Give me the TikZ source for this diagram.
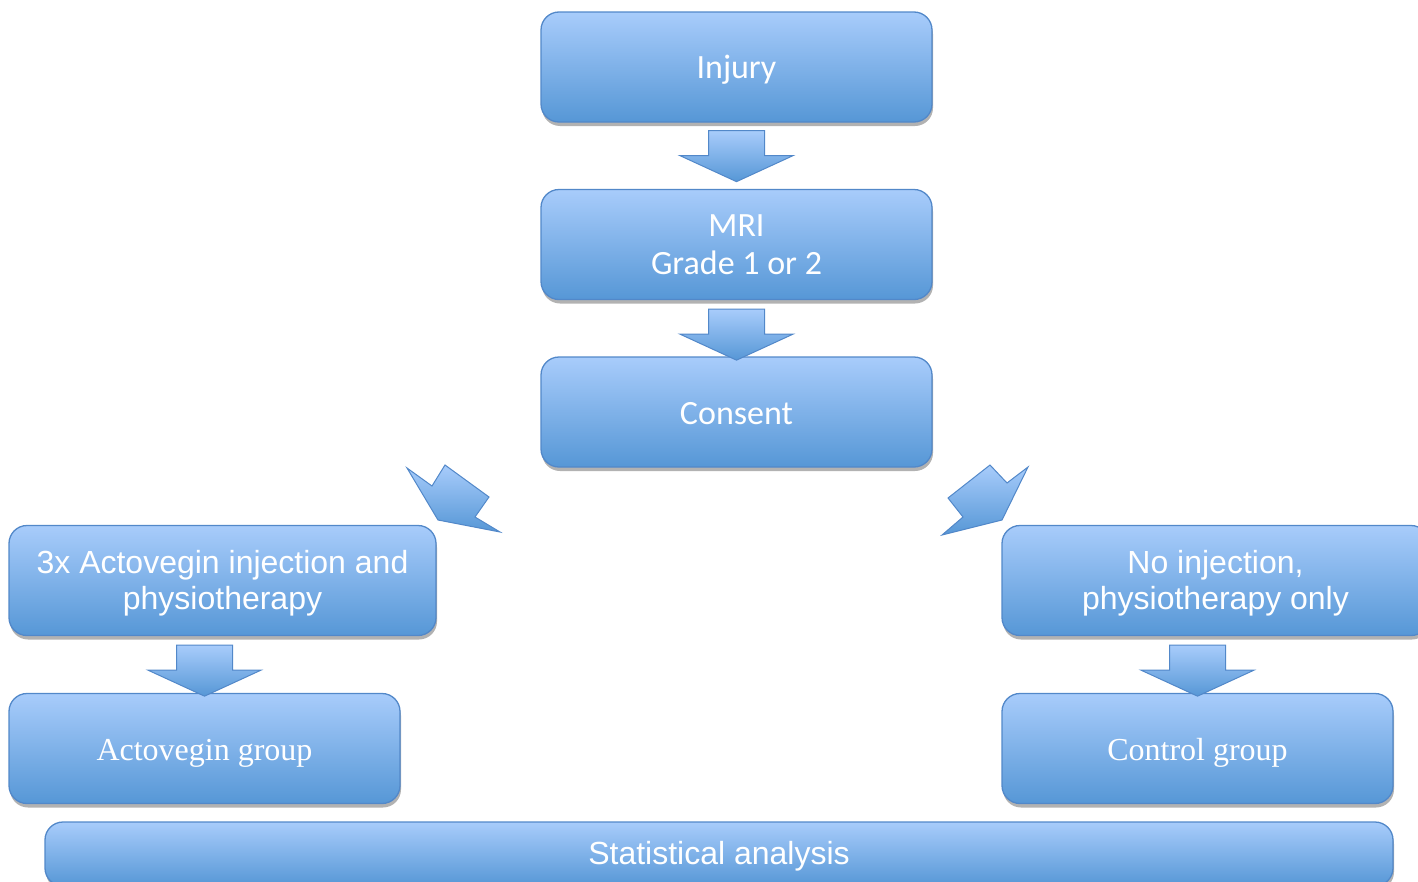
\documentclass[tikz,border=0pt]{standalone}
\usepackage{fontspec}
\setmainfont{Carlito}
\newfontfamily\arialf{Liberation Sans}
\newfontfamily\timesf{Liberation Serif}
\usetikzlibrary{calc,shadows}
\definecolor{btop}{RGB}{168,204,251}
\definecolor{bbot}{RGB}{86,151,214}
\definecolor{bline}{RGB}{82,136,201}
\tikzset{
 flowbox/.style={draw=bline, line width=1.3pt, rounded corners=18pt, top color=btop, bottom color=bbot,
   inner sep=0pt, minimum height=110pt,
   drop shadow={shadow xshift=1pt, shadow yshift=-4pt, opacity=0.3, fill=black}},
 boxtext/.style={text=white, align=center, inner sep=0pt},
 blockarrow/.style={draw=bline, line width=1pt, top color=btop, bottom color=bbot, line join=miter},
 calfont/.style={font=\fontsize{34}{38}\selectfont},
 arfont/.style={font=\arialf\fontsize{32}{36}\selectfont},
 tmfont/.style={font=\timesf\fontsize{32}{36}\selectfont},
}
\newcommand{\downarr}[1]{\path[blockarrow] ($(#1)+(-28,0)$) -- ++(56,0) -- ++(0,25) -- ++(28.5,0)
  -- ($(#1)+(0,51)$) -- ($(#1)+(-56.5,25)$) -- ++(28.5,0) -- cycle;}
\begin{document}
\begin{tikzpicture}[x=1pt,y=-1pt]
\useasboundingbox (0,0) rectangle (1418,881);
\node[flowbox, minimum width=391pt, label={[boxtext, calfont, yshift=-3pt]center:Injury}] (inj) at (736.5,67) {};
\node[flowbox, minimum width=391pt, label={[boxtext, calfont]center:MRI\\Grade 1 or 2}] (mri) at (736.5,244.5) {};
\node[flowbox, minimum width=391pt, label={[boxtext, calfont, yshift=-2pt]center:Consent}] (cons) at (736.5,412) {};
\node[flowbox, minimum width=427pt, label={[boxtext, arfont, yshift=-3pt]center:3x Actovegin injection and\\physiotherapy}] (left) at (222.5,580.5) {};
\node[flowbox, minimum width=427pt, label={[boxtext, arfont, yshift=-3pt]center:No injection,\\physiotherapy only}] (right) at (1215.5,580.5) {};
\node[flowbox, minimum width=391pt, label={[boxtext, tmfont, yshift=-5pt]center:Actovegin group}] (act) at (204.5,748.5) {};
\node[flowbox, minimum width=391pt, label={[boxtext, tmfont, yshift=-4pt]center:Control group}] (ctrl) at (1197.5,748.5) {};
\node[flowbox, minimum width=1348pt, minimum height=64pt, label={[boxtext, arfont, yshift=-2pt]center:Statistical analysis}] (stat) at (719,854) {};
\coordinate (a1) at ($(inj.south)+(0,8)$);
\coordinate (a2) at ($(mri.south)+(0,9)$);
\coordinate (a3) at ($(act.north |- left.south)+(0,9)$);
\coordinate (a4) at ($(ctrl.north |- right.south)+(0,9)$);
\downarr{a1}
\downarr{a2}
\downarr{a3}
\downarr{a4}
\path[blockarrow] (407,468) -- (432,486) -- (445,465) -- (489,497) -- (475,517) -- (500,532) -- (438,520) -- cycle;
\path[blockarrow] (1028,467) -- (1007,483) -- (990,465) -- (948,498) -- (963,517) -- (942,535) -- (1002,520) -- cycle;
\end{tikzpicture}
\end{document}
